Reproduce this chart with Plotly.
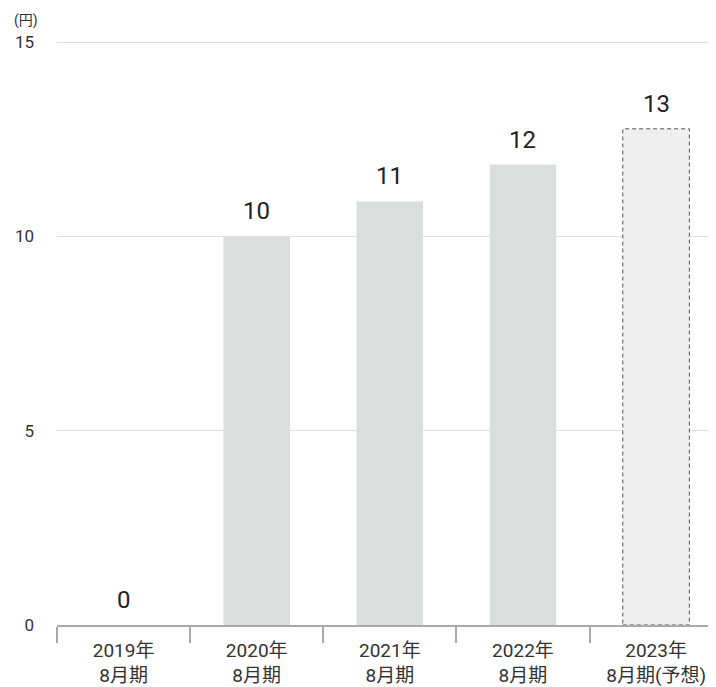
import plotly.graph_objects as go

categories = ["2019年<br>8月期", "2020年<br>8月期", "2021年<br>8月期", "2022年<br>8月期", "2023年<br>8月期(予想)"]
values = [0, 10, 10.9, 11.85, 12.77]
value_labels = ["0", "10", "11", "12", "13"]
forecast = [False, False, False, False, True]
y_ticks = [0, 5, 10, 15]

FONT = "Roboto, 'Noto Sans CJK JP', sans-serif"
TXT = "#333333"

colors = ["#efefef" if f else "#dcdddd" for f in forecast]

fig = go.Figure()
fig.add_trace(go.Bar(
    x=categories, y=values, width=0.5,
    marker=dict(color=colors, line=dict(width=0)),
    hoverinfo="skip",
))

for i, (c, v, lab, f) in enumerate(zip(categories, values, value_labels, forecast)):
    fig.add_annotation(x=c, y=v, xref="x", yref="y", text=lab, showarrow=False,
                       yanchor="bottom", yshift=9,
                       font=dict(family=FONT, size=24, color="#222222"))
    if f:
        fig.add_shape(type="rect", xref="x", yref="y",
                      x0=i - 0.25, x1=i + 0.25, y0=0, y1=v,
                      line=dict(color="#555555", width=1, dash="4px,3px"),
                      fillcolor="rgba(0,0,0,0)", layer="above")

fig.add_annotation(xref="paper", yref="paper", x=0, y=1, text="(円)",
                   showarrow=False, xanchor="right", yanchor="middle",
                   xshift=-17, yshift=21,
                   font=dict(family=FONT, size=14, color=TXT))

fig.update_layout(
    width=708, height=679,
    margin=dict(l=49, r=0, t=33, b=62),
    paper_bgcolor="white", plot_bgcolor="white",
    showlegend=False,
    font=dict(family=FONT, color=TXT),
    xaxis=dict(
        type="category", range=[-0.5, 4.45],
        showline=True, linecolor="#aaaaaa", linewidth=2,
        ticks="outside", tickson="boundaries", ticklen=16, tickwidth=2, tickcolor="#aaaaaa",
        showgrid=False, zeroline=False,
        ticklabelstandoff=7, automargin=False,
        tickfont=dict(family=FONT, size=19, color=TXT),
    ),
    yaxis=dict(
        range=[0, 15.03], tickvals=y_ticks, ticktext=[str(t) for t in y_ticks],
        showgrid=True, gridcolor="#e0e0e4", gridwidth=1,
        zeroline=False, showline=False, ticks="",
        ticklabelstandoff=22, automargin=False,
        tickfont=dict(family=FONT, size=17, color=TXT),
    ),
)

fig.write_html("out.html")
